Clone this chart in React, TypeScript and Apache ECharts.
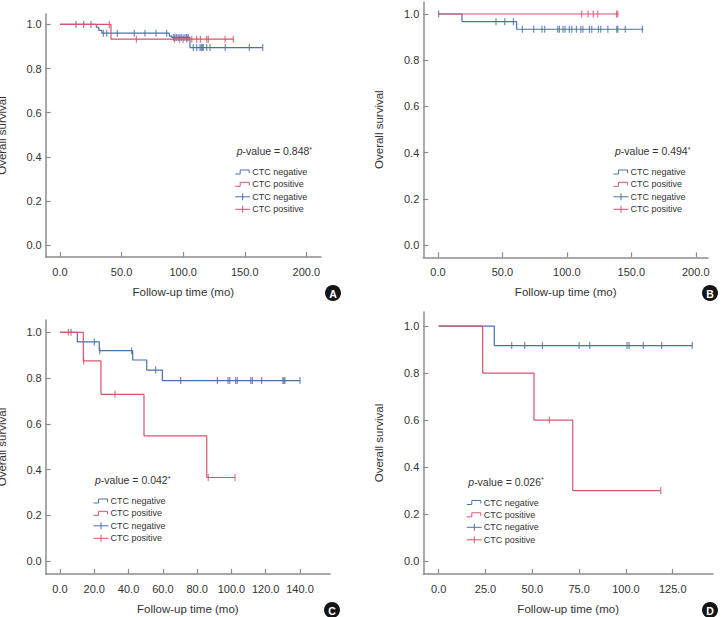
import React, { useEffect, useRef } from 'react';
import * as echarts from 'echarts';

// ---------- data ----------
const xTicksAB = [0, 50, 100, 150, 200];
const xTicksC = [0, 20, 40, 60, 80, 100, 120, 140];
const xTicksD = [0, 25, 50, 75, 100, 125];
const yTicks = [0, 0.2, 0.4, 0.6, 0.8, 1.0];

// Panel A
const aNegTimes = [0, 29.5, 31.5, 34, 88.8, 90.7, 105.5, 164.6];
const aNegSurv = [1, 0.987, 0.973, 0.96, 0.947, 0.941, 0.895, 0.895];
const aNegCensor = [13, 19.2, 25.2, 35.2, 37.9, 46.5, 60.3, 69, 78, 86.6, 92, 93.4, 94.7, 96, 97.4, 98.8, 100.7, 102.3, 102.9, 104.2, 108.2, 111, 113.7, 114.7, 115.5, 116.3, 119.1, 121.8, 134.2, 153.7, 164.6];
const aPosTimes = [0, 41.4, 141];
const aPosSurv = [1, 0.933, 0.933];
const aPosCensor = [40, 62, 93, 97, 100, 103, 107, 111, 114, 119.1, 120.4, 134, 140.7];

// Panel B
const bNegTimes = [0, 18.6, 61, 159.3];
const bNegSurv = [1, 0.967, 0.934, 0.934];
const bNegCensor = [0.5, 45, 51.8, 58.5, 65.5, 74.3, 80.7, 82.8, 92.9, 94.2, 97, 98.6, 101.9, 103.8, 107.4, 110.8, 112.4, 117.5, 119.3, 124.5, 126.3, 131.8, 138.7, 139.5, 145.3, 158.6];
const bPosTimes = [0, 140];
const bPosSurv = [1, 1];
const bPosCensor = [111.5, 116.5, 120.5, 124, 138.5, 139.5];

// Panel C
const cNegTimes = [0, 10.1, 22.9, 42.4, 50.6, 59.7, 140];
const cNegSurv = [1, 0.958, 0.92, 0.879, 0.835, 0.789, 0.789];
const cNegCensor = [6.4, 20, 23.2, 41.8, 55.8, 70.4, 91.8, 98, 99, 102.5, 103.4, 111.3, 112.2, 117.6, 130, 130.6, 131.2, 140];
const cPosTimes = [0, 13.6, 23.9, 49, 85.6, 102.1];
const cPosSurv = [1, 0.875, 0.729, 0.547, 0.365, 0.365];
const cPosCensor = [4.9, 13.8, 32.1, 86.5, 102.1];

// Panel D
const dNegTimes = [0, 29.7, 135.5];
const dNegSurv = [1, 0.917, 0.917];
const dNegCensor = [39, 46, 55.4, 75, 80.7, 100.6, 101.7, 109.3, 119.1, 135.4];
const dPosTimes = [0, 23.5, 50.9, 71.6, 118.6];
const dPosSurv = [1, 0.8, 0.6, 0.3, 0.3];
const dPosCensor = [59.1, 118.6];

const pValues = ['0.848', '0.494', '0.042', '0.026'];
const panelLetters = ['A', 'B', 'C', 'D'];
const legendLabels = ['CTC negative', 'CTC positive', 'CTC negative', 'CTC positive'];

// ---------- style / layout ----------
const BLUE = '#4a71a8';
const RED = '#d8536e';
const AXIS = '#8c8c8c';
const TEXT = '#333333';
const FONT = 'Liberation Sans';

const panels = [
  {
    grid: { left: 45.7, top: 14, width: 275.3, height: 243 },
    xRange: [-11.6, 211.9], yRange: [-0.053, 1.047], xTicks: xTicksAB,
    neg: [aNegTimes, aNegSurv, aNegCensor], pos: [aPosTimes, aPosSurv, aPosCensor],
    legend: [236.7, 151], badge: [333, 293],
  },
  {
    grid: { left: 423.3, top: 2, width: 284.7, height: 255.3 },
    xRange: [-11.4, 209.5], yRange: [-0.053, 1.052], xTicks: xTicksAB,
    neg: [bNegTimes, bNegSurv, bNegCensor], pos: [bPosTimes, bPosSurv, bPosCensor],
    legend: [615, 151], badge: [710, 293],
  },
  {
    grid: { left: 45.7, top: 320, width: 284.3, height: 254 },
    xRange: [-8.34, 157.5], yRange: [-0.057, 1.054], xTicks: xTicksC,
    neg: [cNegTimes, cNegSurv, cNegCensor], pos: [cPosTimes, cPosSurv, cPosCensor],
    legend: [95, 480], badge: [332, 610],
  },
  {
    grid: { left: 423.3, top: 312, width: 289.7, height: 262 },
    xRange: [-8.2, 146.5], yRange: [-0.055, 1.06], xTicks: xTicksD,
    neg: [dNegTimes, dNegSurv, dNegCensor], pos: [dPosTimes, dPosSurv, dPosCensor],
    legend: [468.3, 481.5], badge: [710, 610],
  },
];

function survAt(times: number[], surv: number[], t: number) {
  let v = surv[0];
  for (let i = 0; i < times.length; i++) if (times[i] <= t) v = surv[i];
  return v;
}

function buildOption() {
  const grid: any[] = [];
  const xAxis: any[] = [];
  const yAxis: any[] = [];
  const series: any[] = [];
  const graphic: any[] = [];

  panels.forEach((p, i) => {
    grid.push({ ...p.grid, containLabel: false, outerBoundsMode: 'none' });
    xAxis.push({
      type: 'value', gridIndex: i, min: p.xRange[0], max: p.xRange[1],
      axisLine: { onZero: false, lineStyle: { color: AXIS, width: 1.5 } },
      axisTick: { inside: true, length: 5, customValues: p.xTicks, lineStyle: { color: AXIS, width: 1.2 } },
      axisLabel: {
        customValues: p.xTicks, hideOverlap: false, overflow: 'none',
        formatter: (v: number) => v.toFixed(1), margin: 9,
        color: TEXT, fontSize: 11, fontFamily: FONT,
      },
      splitLine: { show: false },
      name: 'Follow-up time (mo)', nameLocation: 'middle', nameGap: 29,
      nameTextStyle: { color: TEXT, fontSize: 11.5, fontFamily: FONT },
    });
    yAxis.push({
      type: 'value', gridIndex: i, min: p.yRange[0], max: p.yRange[1],
      axisLine: { onZero: false, lineStyle: { color: AXIS, width: 1.5 } },
      axisTick: { inside: true, length: 5, customValues: yTicks, lineStyle: { color: AXIS, width: 1.2 } },
      axisLabel: {
        customValues: yTicks, hideOverlap: false,
        formatter: (v: number) => v.toFixed(1), margin: 4, color: TEXT, fontSize: 11, fontFamily: FONT,
      },
      splitLine: { show: false },
      name: 'Overall survival', nameLocation: 'middle', nameGap: 38,
      nameTextStyle: { color: TEXT, fontSize: 11.5, fontFamily: FONT },
    });

    const groups: [any[], string][] = [[p.neg, BLUE], [p.pos, RED]];
    groups.forEach(([g, color]) => {
      const [times, surv, censor] = g as number[][];
      series.push({
        type: 'line', xAxisIndex: i, yAxisIndex: i, step: 'end', silent: true,
        showSymbol: false, symbol: 'none',
        data: times.map((t, k) => [t, surv[k]]),
        lineStyle: { color, width: 1.2 },
      });
      series.push({
        type: 'scatter', xAxisIndex: i, yAxisIndex: i, silent: true,
        symbol: 'rect', symbolSize: [1.2, 7],
        data: censor.map((t) => [t, survAt(times, surv, t)]),
        itemStyle: { color },
      });
    });

    const [lx, ly] = p.legend;
    graphic.push({
      type: 'text', x: lx, y: ly,
      style: {
        text: '{i|p}-value = ' + pValues[i] + '{s|*}',
        fill: TEXT, fontSize: 10.5, fontFamily: FONT, verticalAlign: 'middle', align: 'left',
        rich: {
          i: { fontStyle: 'italic', fontSize: 10.5, fontFamily: FONT, fill: TEXT },
          s: { fontSize: 7, fontFamily: FONT, fill: TEXT, verticalAlign: 'top' },
        },
      },
    });
    const rowOffsets = [21, 33.3, 45.8, 58.3];
    const ix = lx - 1.5;
    rowOffsets.forEach((dy, r) => {
      const yy = ly + dy;
      const color = r % 2 === 0 ? BLUE : RED;
      if (r < 2) {
        graphic.push({
          type: 'polyline',
          shape: { points: [[ix, yy + 2], [ix + 5, yy + 2], [ix + 5, yy - 2], [ix + 14, yy - 2], [ix + 14, yy + 1]] },
          style: { stroke: color, lineWidth: 1, fill: null },
        });
      } else {
        graphic.push({ type: 'line', shape: { x1: ix, y1: yy, x2: ix + 15, y2: yy }, style: { stroke: color, lineWidth: 1 } });
        graphic.push({ type: 'line', shape: { x1: ix + 7.5, y1: yy - 3.5, x2: ix + 7.5, y2: yy + 3.5 }, style: { stroke: color, lineWidth: 1 } });
      }
      graphic.push({
        type: 'text', x: ix + 17, y: yy,
        style: { text: legendLabels[r], fill: TEXT, fontSize: 9, fontFamily: FONT, verticalAlign: 'middle', align: 'left' },
      });
    });

    const [bx, by] = p.badge;
    graphic.push({ type: 'circle', shape: { cx: bx, cy: by, r: 8 }, style: { fill: '#151515' } });
    graphic.push({
      type: 'text', x: bx, y: by + 0.5,
      style: { text: panelLetters[i], fill: '#ffffff', fontSize: 10.5, fontWeight: 'bold', fontFamily: FONT, align: 'center', verticalAlign: 'middle' },
    });
  });

  return {
    animation: false,
    backgroundColor: '#ffffff',
    textStyle: { fontFamily: FONT },
    grid, xAxis, yAxis, series, graphic,
  };
}

export default function App() {
  const ref = useRef<HTMLDivElement>(null);
  useEffect(() => {
    const chart = echarts.init(ref.current as HTMLDivElement, null, { renderer: 'svg' });
    chart.setOption(buildOption() as any);
    return () => chart.dispose();
  }, []);
  return (
    <div
      ref={ref}
      style={{ position: 'fixed', left: 0, top: 0, width: 721, height: 617, background: '#ffffff' }}
    />
  );
}
